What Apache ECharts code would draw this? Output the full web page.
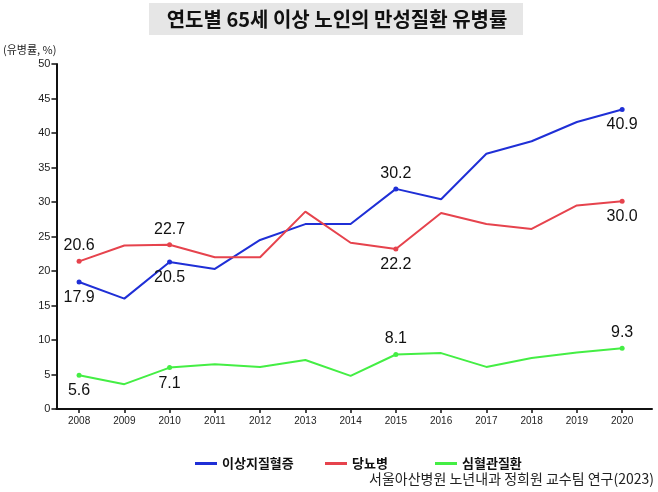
<!DOCTYPE html>
<html>
<head>
<meta charset="utf-8">
<script src="https://cdn.jsdelivr.net/npm/echarts@6/dist/echarts.min.js"></script>
<style>
  html, body { margin: 0; padding: 0; background: #fff; }
  #chart { width: 658px; height: 492px; }
</style>
</head>
<body>
<div id="chart"></div>
<script>
const years = [2008, 2009, 2010, 2011, 2012, 2013, 2014, 2015, 2016, 2017, 2018, 2019, 2020]

const dyslipidemia = [18.4, 16.0, 21.3, 20.3, 24.5, 26.8, 26.8, 31.9, 30.4, 37.0, 38.8, 41.6, 43.4]
const diabetes = [21.4, 23.7, 23.8, 22.0, 22.0, 28.6, 24.1, 23.2, 28.4, 26.8, 26.1, 29.5, 30.1]
const cardio = [4.9, 3.6, 6.0, 6.5, 6.1, 7.1, 4.8, 7.9, 8.1, 6.1, 7.4, 8.2, 8.8]

// printed labels (2008, 2010, 2015, 2020)
const labelIdx = [0, 2, 7, 12]
const dyslipidemiaLabels = ['17.9', '20.5', '30.2', '40.9']
const diabetesLabels = ['20.6', '22.7', '22.2', '30.0']
const cardioLabels = ['5.6', '7.1', '8.1', '9.3']

const NUM_FONT = '"Liberation Sans", Arial, sans-serif'
const KR_FONT = '"Noto Sans CJK KR", "Noto Sans", sans-serif'

function buildData(values, labels, positions) {
  return values.map((v, i) => {
    const k = labelIdx.indexOf(i)
    if (k < 0) return { value: [years[i], v], symbol: 'none' }
    return {
      value: [years[i], v],
      symbol: 'circle',
      symbolSize: 5,
      label: {
        show: true,
        position: positions[k],
        distance: 5,
        formatter: labels[k],
        color: '#111',
        fontSize: 16,
        fontFamily: NUM_FONT
      }
    }
  })
}

function makeSeries(name, color, values, labels, positions) {
  return {
    name,
    type: 'line',
    data: buildData(values, labels, positions),
    lineStyle: { color, width: 2 },
    itemStyle: { color },
    emphasis: { disabled: true },
    z: 3
  }
}

const chart = echarts.init(document.getElementById('chart'))

function legendAt(left, name) {
  return {
    left,
    top: 452,
    data: [name],
    icon: 'rect',
    itemWidth: 22,
    itemHeight: 3,
    textStyle: { fontFamily: KR_FONT, fontSize: 13, color: '#111', fontWeight: 'bold' }
  }
}

chart.setOption({
  animation: false,
  graphic: [
    {
      type: 'rect',
      shape: { x: 149, y: 3, width: 374, height: 32 },
      style: { fill: '#e6e6e6' }
    },
    {
      type: 'text',
      x: 337,
      y: 19,
      style: {
        text: '연도별 65세 이상 노인의 만성질환 유병률',
        font: 'bold 20px "Noto Sans CJK KR", sans-serif',
        fill: '#111',
        align: 'center',
        verticalAlign: 'middle'
      }
    },
    {
      type: 'text',
      right: 4,
      top: 472,
      style: {
        text: '서울아산병원 노년내과 정희원 교수팀 연구(2023)',
        font: '14px "Noto Sans CJK KR", sans-serif',
        fill: '#222'
      }
    }
  ],
  legend: [
    legendAt(190, '이상지질혈증'),
    legendAt(320, '당뇨병'),
    legendAt(430, '심혈관질환')
  ],
  grid: { left: 53, right: 6, top: 64, bottom: 83 },
  xAxis: {
    type: 'value',
    min: 2007.5,
    max: 2020.66,
    splitLine: { show: false },
    axisLine: { lineStyle: { color: '#111', width: 2 } },
    axisTick: { customValues: years, length: 4, lineStyle: { color: '#111', width: 1.5 } },
    axisLabel: {
      customValues: years,
      formatter: (v) => String(v),
      color: '#222',
      fontSize: 10,
      fontFamily: NUM_FONT,
      margin: 7
    }
  },
  yAxis: {
    type: 'value',
    min: 0,
    max: 50,
    interval: 5,
    name: '(유병률, %)',
    nameLocation: 'end',
    nameGap: 9,
    nameTextStyle: { align: 'right', color: '#222', fontSize: 11, fontFamily: KR_FONT },
    axisLine: { show: true, lineStyle: { color: '#111', width: 2 } },
    axisTick: { show: true, length: 5, lineStyle: { color: '#111', width: 1.5 } },
    axisLabel: { color: '#222', fontSize: 11, fontFamily: NUM_FONT, margin: 6 },
    splitLine: { show: false }
  },
  series: [
    makeSeries('이상지질혈증', '#1f2fd6', dyslipidemia, dyslipidemiaLabels, ['bottom', 'bottom', 'top', 'bottom']),
    makeSeries('당뇨병', '#e6434d', diabetes, diabetesLabels, ['top', 'top', 'bottom', 'bottom']),
    makeSeries('심혈관질환', '#44ee44', cardio, cardioLabels, ['bottom', 'bottom', 'top', 'top'])
  ]
})
</script>
</body>
</html>
